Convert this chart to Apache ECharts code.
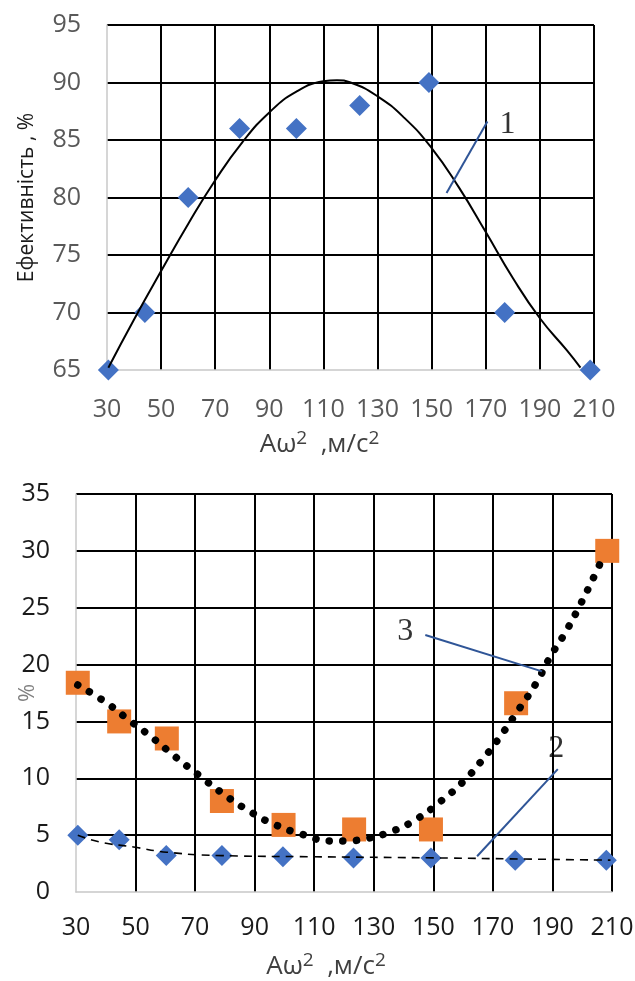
<!DOCTYPE html>
<html><head><meta charset="utf-8">
<script src="https://cdn.jsdelivr.net/npm/echarts@6/dist/echarts.min.js"></script>
<style>html,body{margin:0;padding:0;background:#fff}#c{width:635px;height:981px}</style>
</head><body><div id="c"></div>
<script>
// ---- axis settings ----
const xMin = 30, xMax = 210, xStep = 20;
const topYMin = 65, topYMax = 95, topYStep = 5;
const botYMin = 0, botYMax = 35, botYStep = 5;

// ---- top chart: efficiency ----
const effX = [30.5, 44, 60, 79, 100, 123.4, 149, 177, 208.6];
const effY = [65, 70, 80, 86, 86, 88, 90, 70, 65];
const trend1X = [30.5, 40, 50, 60, 70, 80, 90, 100, 110, 115, 120, 130, 140, 150, 160, 170, 180, 190, 200, 205];
const trend1Y = [65.2, 69.4, 73.6, 77.7, 81.5, 84.8, 87.4, 89.2, 90.1, 90.2, 90.0, 88.8, 86.9, 84.3, 80.9, 77.0, 73.0, 69.5, 66.7, 65.2];

// ---- bottom chart ----
const s2X = [30.6, 44.5, 60.3, 79, 99.5, 123.2, 149.2, 177.5, 208.1];
const s2Y = [5.0, 4.6, 3.2, 3.2, 3.1, 3.0, 3.0, 2.8, 2.8];
const s3X = [30.6, 44.5, 60.5, 79, 99.7, 123.4, 149.2, 177.8, 208.4];
const s3Y = [18.4, 15.0, 13.5, 8.0, 5.9, 5.5, 5.5, 16.6, 30.0];
const trend2X = [30.6, 38, 49.3, 60.5, 79, 110, 150, 180, 209.5];
const trend2Y = [5.0, 4.4, 3.96, 3.5, 3.2, 3.1, 3.0, 2.9, 2.8];
const trend3X = [30.6, 39.3, 47.4, 55.5, 63.3, 71.1, 79.3, 87.7, 96.5, 105.9, 115.6, 120.8, 125.7, 135.5, 144.3, 152.5, 160, 166.7, 172.8, 178.8, 184.4, 189.3, 194.5, 199.4, 203.9, 206.2];
const trend3Y = [18.2, 16.8, 15.2, 13.6, 11.9, 10.3, 8.66, 7.19, 5.96, 5.08, 4.49, 4.49, 4.61, 5.28, 6.4, 7.98, 9.7, 11.7, 13.8, 16.1, 18.3, 20.7, 22.9, 25.3, 27.7, 29.0];

// ---- annotations (data coordinates) ----
const ann1Line = [[170.6, 86.6], [155.5, 80.4]];
const ann1Label = [[178, 86.3, '1']];
const ann3Line = [[147.3, 22.6], [186.5, 19.4]];
const ann3Label = [[140.6, 22.9, '3']];
const ann2Line = [[191.8, 10.8], [164.7, 3.14]];
const ann2Label = [[191.3, 12.65, '2']];

const zip = (a, b) => a.map((v, i) => [v, b[i]]);

const FONT = "'Open Sans', 'Liberation Sans', sans-serif";
const nameRich = {
  a: {fontFamily: FONT, fontSize: 26, color: '#404040'},
  s: {fontFamily: FONT, fontSize: 19, color: '#404040', verticalAlign: 'top', lineHeight: 31}
};
function xAxisCfg(gridIndex, labelColor, gap, padRight) {
  return {
    type: 'value', gridIndex, min: xMin, max: xMax, interval: xStep,
    axisLine: {show: true, onZero: false, lineStyle: {color: '#C8C8C8', width: 1.5}},
    axisTick: {show: false},
    axisLabel: {color: labelColor, fontSize: 25, fontFamily: FONT, margin: gap},
    splitLine: {show: true, showMinLine: false, lineStyle: {color: '#000', width: 2}},
    name: '{a|Aω}{s|2}{a|  ,м/с}{s|2}', nameLocation: 'middle', nameGap: 59, nameMoveOverlap: false,
    nameTextStyle: {rich: nameRich, padding: [0, padRight, 0, 0]}
  };
}
function yAxisCfg(gridIndex, min, max, step, labelColor, name, nameGap, nameSize, nameColor) {
  return {
    type: 'value', gridIndex, min, max, interval: step,
    axisLine: {show: true, onZero: false, lineStyle: {color: '#C8C8C8', width: 1.5}},
    axisTick: {show: false},
    axisLabel: {color: labelColor, fontSize: 25, fontFamily: FONT, margin: 26},
    splitLine: {show: true, showMinLine: false, lineStyle: {color: '#000', width: 2}},
    name, nameLocation: 'middle', nameGap, nameRotate: 90, nameMoveOverlap: false,
    nameTextStyle: {fontFamily: FONT, fontSize: nameSize, color: nameColor}
  };
}
const diamond = {symbol: 'diamond', symbolSize: 21, itemStyle: {color: '#4472C4', opacity: 1}};
const labelSeries = (xi, yi, data) => ({
  type: 'scatter', xAxisIndex: xi, yAxisIndex: yi, data, symbolSize: 0, silent: true, z: 10,
  label: {show: true, position: 'inside', formatter: p => p.data[2],
    fontFamily: "'Liberation Serif', serif", fontSize: 32, color: '#000'}
});
const leader = (xi, yi, data) => ({
  type: 'line', xAxisIndex: xi, yAxisIndex: yi, data, symbol: 'none', silent: true, z: 10,
  lineStyle: {color: '#2F5597', width: 2}
});

const chart = echarts.init(document.getElementById('c'), null, {renderer: 'canvas'});
chart.setOption({
  backgroundColor: '#fff',
  animation: false,
  grid: [
    {left: 107, right: 41, top: 25, height: 345, containLabel: false, outerBoundsMode: 'none'},
    {left: 76, right: 23, top: 494, height: 398, containLabel: false, outerBoundsMode: 'none'}
  ],
  xAxis: [xAxisCfg(0, '#595959', 27, 62), xAxisCfg(1, '#1a1a1a', 23, 36)],
  yAxis: [
    yAxisCfg(0, topYMin, topYMax, topYStep, '#595959', 'Ефективність , %', 69, 21, '#1a1a1a'),
    yAxisCfg(1, botYMin, botYMax, botYStep, '#1a1a1a', '%', 37, 22, '#7f7f7f')
  ],
  series: [
    Object.assign({type: 'scatter', xAxisIndex: 0, yAxisIndex: 0, data: zip(effX, effY), z: 3}, diamond),
    {type: 'line', xAxisIndex: 0, yAxisIndex: 0, data: zip(trend1X, trend1Y), smooth: true, symbol: 'none', z: 4,
     lineStyle: {color: '#000', width: 2}},
    leader(0, 0, ann1Line), labelSeries(0, 0, ann1Label),

    Object.assign({type: 'scatter', xAxisIndex: 1, yAxisIndex: 1, data: zip(s2X, s2Y), z: 3}, diamond),
    {type: 'scatter', xAxisIndex: 1, yAxisIndex: 1, data: zip(s3X, s3Y), z: 3, symbol: 'rect', symbolSize: 24,
     itemStyle: {color: '#ED7D31', opacity: 1}},
    {type: 'line', xAxisIndex: 1, yAxisIndex: 1, data: zip(trend2X, trend2Y), smooth: true, symbol: 'none', z: 4,
     lineStyle: {color: '#000', width: 1.6, type: [8, 6]}},
    {type: 'line', xAxisIndex: 1, yAxisIndex: 1, data: zip(trend3X, trend3Y), smooth: true, symbol: 'none', z: 4,
     lineStyle: {color: '#000', width: 7.5, type: [0.1, 13.5], cap: 'round'}},
    leader(1, 1, ann3Line), labelSeries(1, 1, ann3Label),
    leader(1, 1, ann2Line), labelSeries(1, 1, ann2Label)
  ]
});
</script></body></html>
